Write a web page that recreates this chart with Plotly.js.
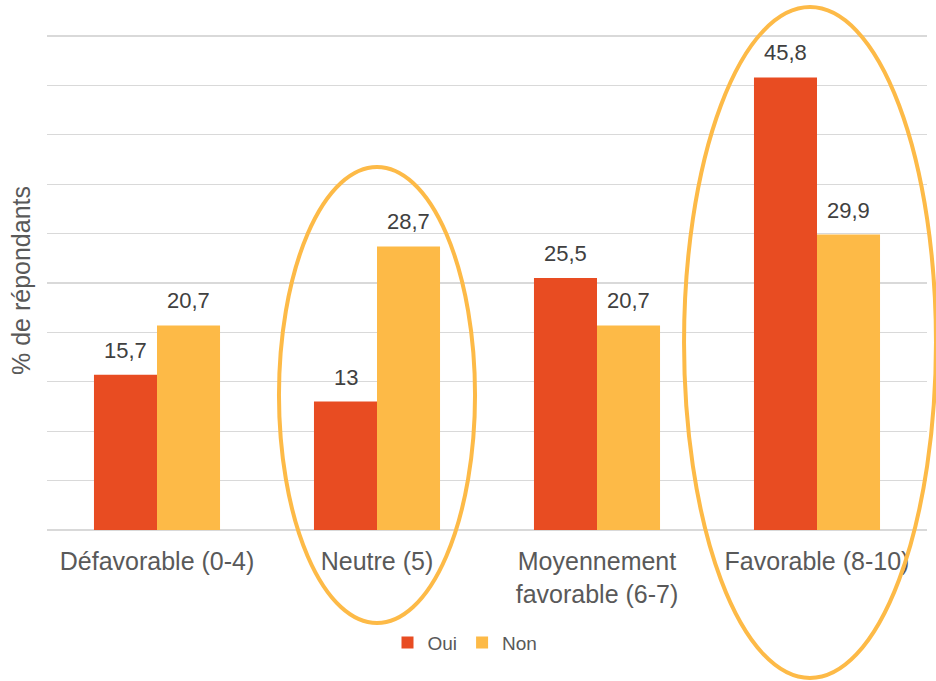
<!DOCTYPE html>
<html>
<head>
<meta charset="utf-8">
<script src="https://cdn.plot.ly/plotly-3.0.1.min.js"></script>
<style>html,body{margin:0;padding:0;background:#fff;}#chart{width:936px;height:681px;}</style>
</head>
<body>
<div id="chart"></div>
<script>
const categories = ["Défavorable (0-4)", "Neutre (5)", "Moyennement<br>favorable (6-7)", "Favorable (8-10)"];
const seriesNames = ["Oui", "Non"];
const ouiValues = [15.7, 13, 25.5, 45.8];
const nonValues = [20.7, 28.7, 20.7, 29.9];
const colors = ["#E84C22", "#FDBA47"];
const yTitle = "% de répondants";

const fmt = v => String(v).replace('.', ',');
const font = "Liberation Sans, Arial, sans-serif";
const series = [ouiValues, nonValues];

const traces = series.map((vals, i) => ({
  type: 'bar',
  name: seriesNames[i],
  x: categories,
  y: vals,
  marker: {color: colors[i]},
  hoverinfo: 'none'
}));

// value labels placed on the bars through the axis scales
const annotations = [];
series.forEach((vals, i) => {
  vals.forEach((v, j) => {
    annotations.push({
      x: categories[j], y: v, xref: 'x', yref: 'y',
      text: fmt(v), showarrow: false, yanchor: 'bottom', xanchor: 'center',
      xshift: i === 0 ? -31.5 : 31.5, yshift: 10,
      font: {family: font, size: 22, color: '#404040'}
    });
  });
});

const ring = {color: '#FDBA47', width: 4};
// plot area: 47..927 px horizontally, 31..530 px vertically (0..50.5)
const layout = {
  width: 936, height: 681,
  margin: {l: 47, r: 9, t: 31, b: 151},
  paper_bgcolor: '#fff', plot_bgcolor: '#fff',
  barmode: 'group', bargap: 0.427, bargroupgap: 0,
  showlegend: true,
  legend: {orientation: 'h', x: 0.475, xanchor: 'center', y: -0.226, yanchor: 'middle',
           font: {family: font, size: 19, color: '#595959'}, itemwidth: 30, traceorder: 'normal'},
  xaxis: {type: 'category', tickfont: {family: font, size: 25, color: '#595959'},
          showgrid: false, showline: false, ticks: '', ticklabelstandoff: 14, fixedrange: true},
  yaxis: {range: [0, 50.5], dtick: 5, showticklabels: false, showgrid: true,
          gridcolor: '#D9D9D9', gridwidth: 1.3, zeroline: true, zerolinecolor: '#D9D9D9', zerolinewidth: 1.5,
          title: {text: yTitle, font: {family: font, size: 25, color: '#595959'}, standoff: 8},
          fixedrange: true},
  annotations: annotations,
  shapes: [
    {type: 'circle', xref: 'paper', yref: 'paper', x0: 0.2636, x1: 0.4864, y0: -0.1864, y1: 0.7275, line: ring, layer: 'above'},
    {type: 'circle', xref: 'paper', yref: 'paper', x0: 0.7239, x1: 1.0102, y0: -0.2966, y1: 1.0481, line: ring, layer: 'above'}
  ]
};
Plotly.newPlot('chart', traces, layout, {staticPlot: true, displayModeBar: false});
</script>
</body>
</html>
